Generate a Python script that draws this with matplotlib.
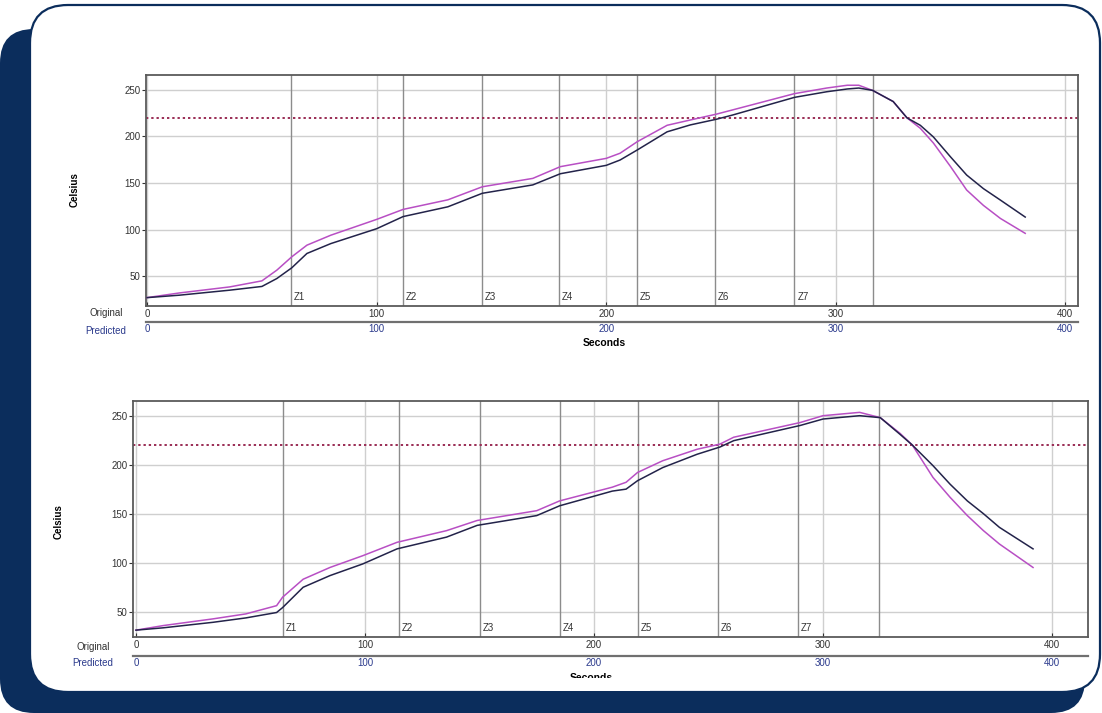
import matplotlib.pyplot as plt
from matplotlib.patches import FancyBboxPatch, Rectangle
from matplotlib.transforms import blended_transform_factory

W, H = 1102, 713
NAVY = "#0b2d5c"
ORIG_COLOR = "#23234a"
PRED_COLOR = "#b84fc4"
LIMIT = 220

plt.rcParams["font.family"] = ["Liberation Sans", "DejaVu Sans"]

# upper run
TOP_T = [0, 14, 36, 50, 56.5, 63, 69.6, 80, 100, 111.5, 131, 146, 168, 180, 200, 206,
         213.5, 226.5, 236.6, 248, 255, 282, 296, 305, 310, 316, 325, 331, 336.8,
         342.5, 350, 357, 364.3, 371.7, 382.5]
TOP_ORIG = [27, 29.6, 35, 39, 47.5, 59, 74.4, 85, 101, 114, 124.5, 139, 148, 160, 169, 174.7,
            185.5, 205, 212.4, 218.5, 223, 242, 248, 251, 252, 249.5, 237.5, 220, 212,
            199.5, 178, 158.6, 144, 131.7, 113.5]
TOP_PRED = [27, 32, 38.5, 45, 56.5, 70.8, 83.3, 94, 111, 121.7, 132, 146, 155, 167.6, 176.5, 182,
            194.4, 212, 217.7, 224, 228.5, 246, 252, 255, 255, 249.5, 237.5, 220, 208.8,
            193, 167.6, 142.5, 126, 112, 96]
TOP_ZONES = [62.7, 111.5, 146, 179.5, 213.5, 247.5, 282, 316]

# lower run
LOW_T = [0, 12, 33.6, 48, 61.4, 64, 73, 84.7, 99, 114, 135.6, 149, 175, 185, 208, 214, 219,
         230, 245, 255, 261, 290, 300, 316, 325, 333.6, 339, 348, 355.5, 363, 370, 377, 391.7]
LOW_ORIG = [31, 33.4, 39, 43.5, 49, 54, 74.8, 86.7, 98.6, 114, 126, 138, 148, 158, 173, 175, 183.6,
            197, 210.6, 218, 224.5, 240, 246.6, 250, 248, 231, 220, 199, 180, 163, 150, 136, 114]
LOW_PRED = [31, 35.7, 42.5, 47.6, 56, 64.6, 83, 95, 107, 120.7, 132.6, 143, 153, 163, 177, 182, 192,
            204, 215.7, 221, 228, 243, 250, 253.4, 248, 232, 220, 187, 166.6, 148, 132.7, 119, 95]
LOW_ZONES = [64, 115, 150, 185, 219, 254, 289, 324.5]

ZONE_NAMES = ["Z1", "Z2", "Z3", "Z4", "Z5", "Z6", "Z7"]
X_TICKS = [0, 100, 200, 300, 400]
Y_TICKS = [50, 100, 150, 200, 250]


def fx(px):
    return px / W


def fy(py):
    return 1 - py / H


def draw_panel(fig, box, t, orig, pred, zones, xlim, ylim, sep_px, rows_px, celsius_px,
               seconds_px):
    left, top, right, bottom = box
    ax = fig.add_axes([fx(left), fy(bottom), (right - left) / W, (bottom - top) / H])
    ax.set_facecolor("white")
    ax.set_xlim(*xlim)
    ax.set_ylim(*ylim)

    ax.set_yticks(Y_TICKS)
    ax.set_xticks(X_TICKS)
    ax.grid(True, color="#cfcfcf", lw=1.0)
    ax.set_axisbelow(True)
    for z in zones:
        ax.axvline(z, color="#8c8c8c", lw=1.0, zorder=1.5)
    tr = blended_transform_factory(ax.transData, ax.transAxes)
    for z, name in zip(zones, ZONE_NAMES):
        ax.text(z + 1.2, 0.018, name, transform=tr, fontsize=7, color="#333333",
                ha="left", va="bottom")

    ax.axhline(LIMIT, color="#9a2d55", ls=(0, (1.2, 1.5)), lw=1.4, zorder=2)
    ax.plot(t, pred, color=PRED_COLOR, lw=1.1, zorder=3)
    ax.plot(t, orig, color=ORIG_COLOR, lw=1.1, zorder=3)

    for s in ax.spines.values():
        s.set_color("#5a5a5a")
        s.set_linewidth(1.3)
    ax.tick_params(axis="y", direction="out", length=3, width=0.8, pad=1,
                   labelsize=7, colors="#333333")
    ax.tick_params(axis="x", direction="in", length=3, width=0.8, pad=2.5,
                   labelsize=7, colors="#333333")

    # second scale row (predicted)
    sep = -(sep_px - bottom) / (bottom - top)
    sec = ax.secondary_xaxis(sep)
    sec.set_xticks(X_TICKS)
    sec.spines["bottom"].set_color("#707070")
    sec.spines["bottom"].set_linewidth(1.6)
    sec.tick_params(length=0, pad=1.5, labelsize=7, labelcolor="#2b3a8c")

    (ox, oy), (px_, py_) = rows_px
    fig.text(fx(ox), fy(oy), "Original", fontsize=7, color="#333333", ha="right", va="center")
    fig.text(fx(px_), fy(py_), "Predicted", fontsize=7, color="#2b3a8c", ha="right", va="center")
    fig.text(fx(celsius_px[0]), fy(celsius_px[1]), "Celsius", fontsize=7, fontweight="bold",
             rotation=90, ha="center", va="center")
    fig.text(fx(seconds_px[0]), fy(seconds_px[1]), "Seconds", fontsize=7.5,
             fontweight="bold", ha="center", va="center")
    return ax


fig = plt.figure(figsize=(W / 100, H / 100), dpi=100)

bg = fig.add_axes([0, 0, 1, 1], zorder=-10)
bg.set_xlim(0, W)
bg.set_ylim(H, 0)
bg.axis("off")
bg.add_patch(FancyBboxPatch((0, 29), 1085, 684, boxstyle="round,pad=0,rounding_size=34",
                            fc=NAVY, ec="none"))
bg.add_patch(FancyBboxPatch((30, 5), 1070, 687, boxstyle="round,pad=0,rounding_size=38",
                            fc="white", ec=NAVY, lw=1.6))

draw_panel(fig, (146, 75, 1078, 306), TOP_T, TOP_ORIG, TOP_PRED, TOP_ZONES,
           (-0.5, 405.5), (18, 266), 322, ((123, 313.5), (126, 331)), (75, 190), (604, 343))
draw_panel(fig, (133, 401, 1088, 637), LOW_T, LOW_ORIG, LOW_PRED, LOW_ZONES,
           (-1.3, 415.7), (24, 265), 655.5, ((110, 647), (113, 663)), (59, 522), (591, 678))

# the source screenshot is cut just under the lower axis title
cover = fig.add_axes([0, 0, 1, 1], zorder=10)
cover.set_xlim(0, W)
cover.set_ylim(H, 0)
cover.axis("off")
cover.add_patch(Rectangle((540, 677.5), 110, 13, fc="white", ec="none"))

fig.savefig("out.png", dpi=100)
